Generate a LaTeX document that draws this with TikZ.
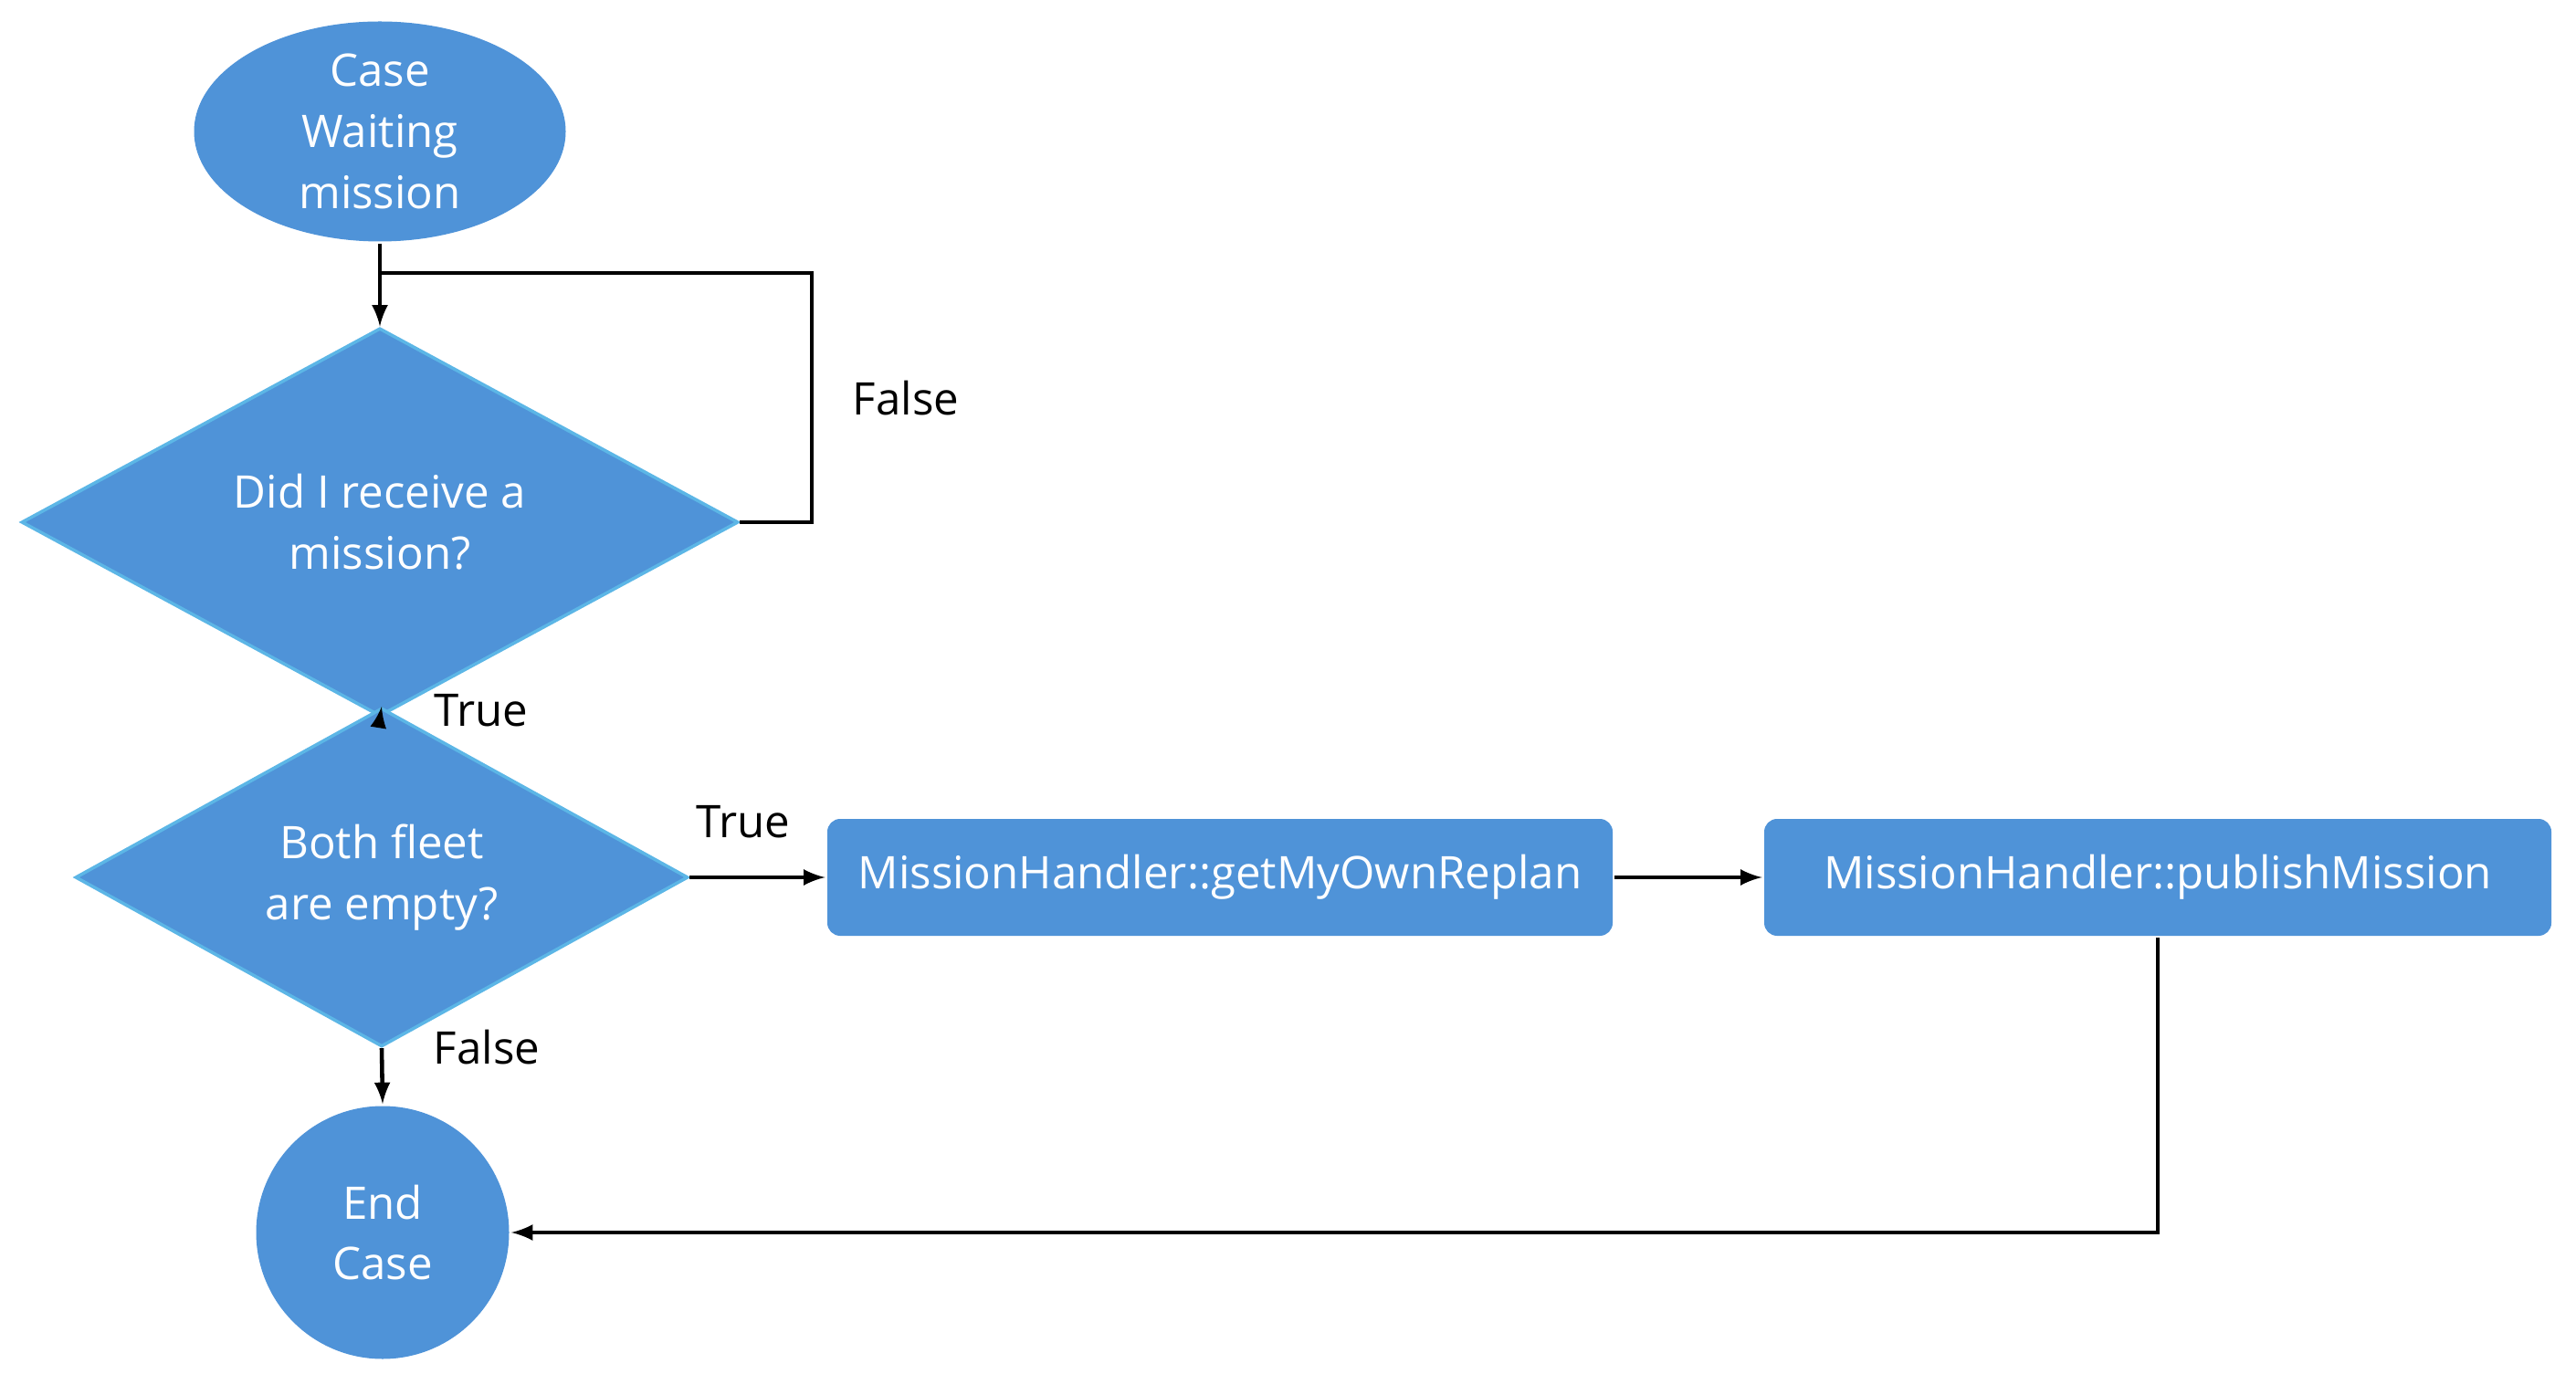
\documentclass[tikz,border=0pt]{standalone}
\usepackage{fontspec}
\setmainfont{Open Sans}
\usetikzlibrary{shapes.geometric,arrows,positioning}
\definecolor{boxblue}{HTML}{4F93D8}
\definecolor{edgeblue}{HTML}{5CB6E6}
\tikzset{
  block/.style={draw=none,fill=boxblue,text=white,font=\fontsize{14}{19}\selectfont,align=center},
  terminal/.style={block,ellipse,inner sep=0pt},
  decision/.style={block,diamond,draw=edgeblue,line width=1pt,inner sep=0pt},
  process/.style={block,rounded corners=4pt,minimum height=1.28cm},
  label/.style={font=\fontsize{14}{17}\selectfont},
}
\tikzstyle{arrow} = [line width=1.3pt,->,>=latex]

\begin{document}
\begin{tikzpicture}[line width=1.3pt]
  \useasboundingbox (0,0) rectangle (28.21,-15.05);

  \node[terminal,minimum width=4.07cm,minimum height=2.41cm] (start) at (4.16,-1.44) {Case\\Waiting\\mission};
  \node[decision,minimum width=7.85cm,minimum height=3.76cm] (received) at (4.16,-5.72) {Did I receive a\\mission?};
  \node[decision,minimum width=6.71cm,minimum height=2.66cm] (empty) at (4.18,-9.61) {Both fleet\\are empty?};
  \node[process,minimum width=8.6cm] (replan) at (13.36,-9.61) {MissionHandler::getMyOwnReplan};
  \node[process,minimum width=8.62cm] (publish) at (23.63,-9.61) {MissionHandler::publishMission};
  \node[terminal,circle,minimum size=2.77cm] (end) at (4.19,-13.5) {End\\Case};

  \coordinate (loopr) at (8.89,-5.72);
  \coordinate (loopt) at (8.89,-2.99);
  \coordinate (loopj) at (4.16,-2.99);
  \coordinate (back) at (23.63,-13.5);

  \draw (start) -- (loopj);
  \draw[arrow] (received.east) -- (loopr) -- (loopt) -- (loopj) -- (received.north);
  \draw[arrow] (received.south) -- (empty.north);
  \draw[arrow] (empty.east) -- (replan.west);
  \draw[arrow] (replan.east) -- (publish.west);
  \draw[arrow] (empty.south) -- (end.north);
  \draw[arrow] (publish.south) -- (back) -- (end.east);

  \node[label] (lfalse1) at (9.92,-4.36) {False};
  \node[label] (ltrue1) at (5.27,-7.78) {True};
  \node[label] (ltrue2) at (8.14,-9.0) {True};
  \node[label] (lfalse2) at (5.33,-11.47) {False};
\end{tikzpicture}
\end{document}
